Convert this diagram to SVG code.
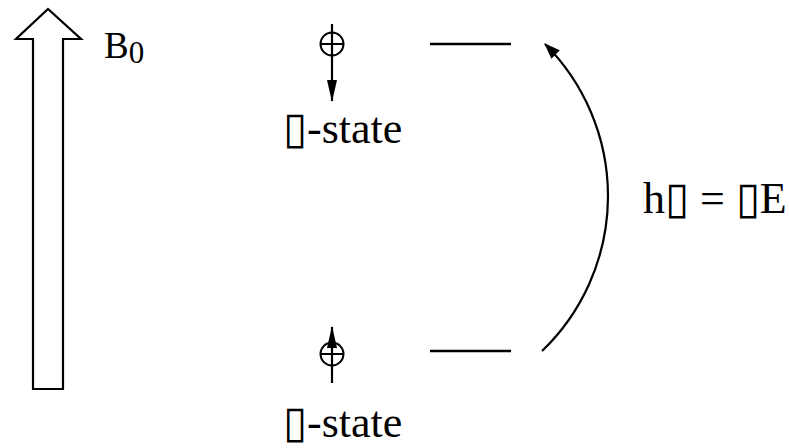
<svg xmlns="http://www.w3.org/2000/svg" width="789" height="448" viewBox="0 0 789 448">
<defs>
<marker id="ah" markerWidth="22" markerHeight="12" refX="21" refY="6" orient="auto" markerUnits="userSpaceOnUse" viewBox="0 0 22 12">
<path d="M0,1 L22,6 L0,11 Z" fill="#000"/>
</marker>
<marker id="ah2" markerWidth="16" markerHeight="14" refX="15" refY="7" orient="auto" markerUnits="userSpaceOnUse" viewBox="0 0 16 14">
<path d="M0,1 L16,7 L0,13 Z" fill="#000"/>
</marker>
</defs>
<g id="field">
<path d="M33,389 L33,39 L16,39 L48,9 L81,39 L63,39 L63,389 Z" stroke="#000" stroke-width="2.2" fill="none"/>
<text x="104" y="58" font-family="'Liberation Serif', serif" font-size="37">B<tspan font-size="31" dy="5">0</tspan></text>
</g>
<g id="beta">
<circle cx="332" cy="44" r="11.5" stroke="#000" stroke-width="2" fill="none"/>
<line x1="320.5" y1="44" x2="343.5" y2="44" stroke="#000" stroke-width="2"/>
<text x="283" y="143" font-family="'Liberation Serif', serif" font-size="44">▯-state</text>
</g>
<g id="alpha">
<circle cx="332" cy="354" r="11.5" stroke="#000" stroke-width="2" fill="none"/>
<line x1="320.5" y1="354" x2="343.5" y2="354" stroke="#000" stroke-width="2"/>
<text x="283" y="437" font-family="'Liberation Serif', serif" font-size="44">▯-state</text>
</g>
<g id="levels">
<line x1="430" y1="44" x2="511" y2="44" stroke="#000" stroke-width="2.4"/>
<line x1="430" y1="351" x2="511" y2="351" stroke="#000" stroke-width="2.4"/>
</g>
<g id="label">
<text x="643" y="213" font-family="'Liberation Serif', serif" font-size="44">h▯ = ▯E</text>
</g>
<g id="connectors">
<line x1="332" y1="24" x2="332" y2="101" stroke="#000" stroke-width="2.2" marker-end="url(#ah)"/>
<line x1="332" y1="383" x2="332" y2="327" stroke="#000" stroke-width="2.2" marker-end="url(#ah)"/>
<path d="M542,351 A215,215 0 0 0 545,44" stroke="#000" stroke-width="2.2" fill="none" marker-end="url(#ah2)"/>
</g>
</svg>
